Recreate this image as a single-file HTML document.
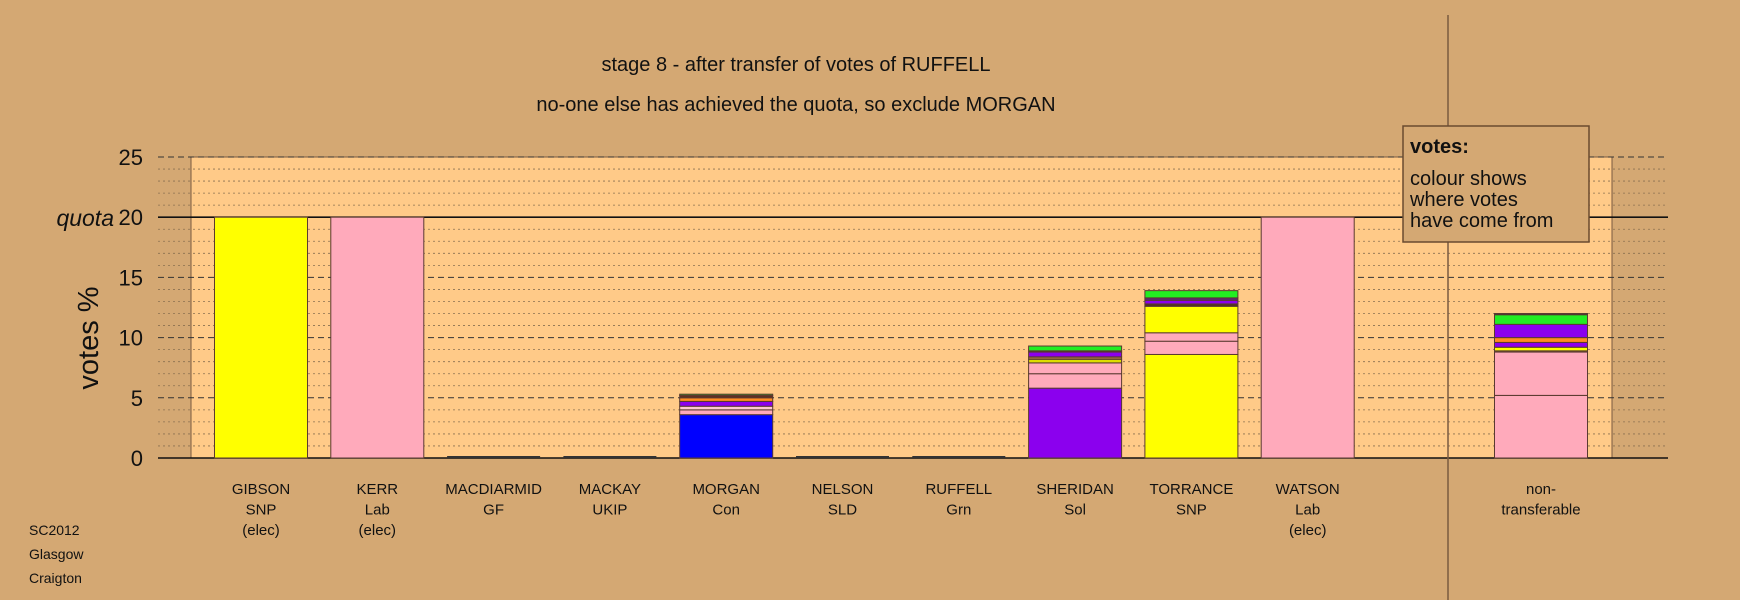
<!DOCTYPE html>
<html><head><meta charset="utf-8"><style>
body{margin:0;background:#d4a873;}
svg{display:block;font-family:"Liberation Sans",sans-serif;}
</style></head><body>
<svg id="c" width="1740" height="600" viewBox="0 0 1740 600">
<rect width="1740" height="600" fill="#d4a873"/>
<rect x="191" y="157" width="1421" height="301" fill="#ffca88" stroke="#7a5a40" stroke-width="1"/>
<g id="grid"></g>
<line x1="1448" y1="15" x2="1448" y2="600" stroke="#7a5a40" stroke-width="1.5"/>
<g id="bars"></g>
<g id="labels"></g>
<text x="796" y="71" font-size="20" text-anchor="middle" fill="#111">stage 8 - after transfer of votes of RUFFELL</text>
<text x="796" y="111" font-size="20" text-anchor="middle" fill="#111">no-one else has achieved the quota, so exclude MORGAN</text>
<text x="0" y="0" transform="translate(98,338) rotate(-90)" font-size="29" text-anchor="middle" fill="#111">votes %</text>
<text x="114" y="226" font-size="23" font-style="italic" text-anchor="end" fill="#111">quota</text>
<g>
<rect x="1403" y="126" width="186" height="116" fill="#d4a873" stroke="#6a4a30" stroke-width="1.5"/>
<text x="1410" y="153" font-size="20" font-weight="bold" fill="#111">votes:</text>
<text x="1410" y="185" font-size="20" fill="#111">colour shows</text>
<text x="1410" y="206" font-size="20" fill="#111">where votes</text>
<text x="1410" y="227" font-size="20" fill="#111">have come from</text>
</g>
<text x="29" y="535" font-size="14" fill="#111">SC2012</text>
<text x="29" y="559" font-size="14" fill="#111">Glasgow</text>
<text x="29" y="583" font-size="14" fill="#111">Craigton</text>
</svg>
<script>
const categories = ["GIBSON","KERR","MACDIARMID","MACKAY","MORGAN","NELSON","RUFFELL","SHERIDAN","TORRANCE","WATSON","non-"];
const parties = ["SNP","Lab","GF","UKIP","Con","SLD","Grn","Sol","SNP","Lab","transferable"];
const notes = ["(elec)","(elec)","","","","","","","","(elec)",""];
const segValues = [
 [20],[20],[],[],
 [3.6,0.4,0.3,0.4,0.3,0.2,0.1],
 [],[],
 [5.8,1.2,0.9,0.3,0.2,0.4,0.1,0.4],
 [8.6,1.1,0.7,2.2,0.2,0.3,0.2,0.6],
 [20],
 [5.2,3.6,0.1,0.3,0.4,0.4,1.1,0.8,0.1]
];
const segColors = [
 ["#ffff00"],["#ffaabb"],[],[],
 ["#0000ff","#ffaabb","#ffc8d0","#8b00ee","#ff8c20","#603020","#22ee22"],
 [],[],
 ["#8b00ee","#ffaabb","#ffaabb","#dddd00","#a07040","#8b00ee","#402020","#22ee22"],
 ["#ffff00","#ffaabb","#ffaabb","#ffff00","#503020","#8b00ee","#602080","#22ee22"],
 ["#ffaabb"],
 ["#ffaabb","#ffaabb","#aa8800","#ffff00","#8b00ee","#ff8c20","#8b00ee","#22ee22","#303030"]
];
const yTicks = [0,5,10,15,20,25];
const quota = 20;
const NS="http://www.w3.org/2000/svg";
const y0=458, pxPer=12.04;
function yScale(v){return y0 - v*pxPer;}
function xCenter(i){return i<10 ? 261 + i*116.3 : 1541;}
const barW=93;
const grid=document.getElementById('grid');
for(let v=0; v<=25; v+=1){
  const l=document.createElementNS(NS,'line');
  
  
  l.setAttribute('x1',158);l.setAttribute('x2',1668);
  l.setAttribute('y1',yScale(v));l.setAttribute('y2',yScale(v));
  if(v===0||v===quota){l.setAttribute('stroke','#111');l.setAttribute('stroke-width','1.6');}
  else if(v%5===0){l.setAttribute('stroke','#333');l.setAttribute('stroke-dasharray','6,4');}
  else {l.setAttribute('stroke','#8a7050');l.setAttribute('stroke-dasharray','2,3');l.setAttribute('stroke-width','0.8');}
  grid.appendChild(l);
}
yTicks.forEach(v=>{
  const t=document.createElementNS(NS,'text');
  
  
  t.setAttribute('x',143);t.setAttribute('y',yScale(v)+8);
  t.setAttribute('font-size','22');t.setAttribute('text-anchor','end');t.setAttribute('fill','#111');
  t.textContent=v;grid.appendChild(t);
});
const bars=document.getElementById('bars');
segValues.forEach((segs,i)=>{
  let acc=0;const x=xCenter(i)-barW/2;
  if(segs.length===0){
    const r=document.createElementNS(NS,'rect');
    
    
    r.setAttribute('x',x);r.setAttribute('y',y0-2);r.setAttribute('width',barW);r.setAttribute('height',2);r.setAttribute('fill','#333');
    bars.appendChild(r);
  }
  segs.forEach((v,j)=>{
    const r=document.createElementNS(NS,'rect');
    
    
    r.setAttribute('x',x);r.setAttribute('y',yScale(acc+v));
    r.setAttribute('width',barW);r.setAttribute('height',v*pxPer);
    r.setAttribute('fill',segColors[i][j]);r.setAttribute('stroke','#5a3a30');r.setAttribute('stroke-width','1');
    bars.appendChild(r);acc+=v;
  });
});
const labels=document.getElementById('labels');
categories.forEach((c,i)=>{
  [c,parties[i],notes[i]].forEach((s,k)=>{
    if(!s)return;
    const t=document.createElementNS(NS,'text');
    
    
    t.setAttribute('x',xCenter(i));t.setAttribute('y',494+k*20.5);
    t.setAttribute('font-size','15');t.setAttribute('text-anchor','middle');t.setAttribute('fill','#111');
    t.textContent=s;labels.appendChild(t);
  });
});
</script>
</body></html>
